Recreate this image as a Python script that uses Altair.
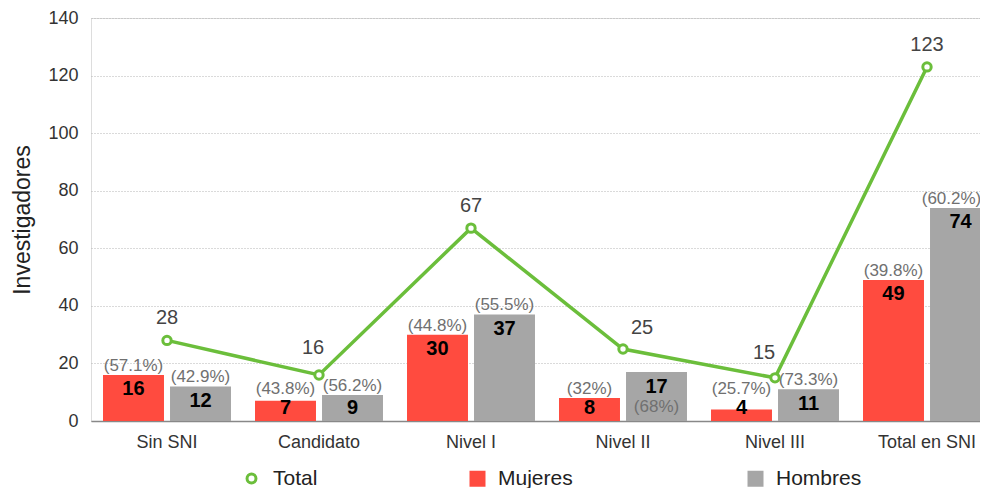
import altair as alt
import pandas as pd

categorias = ["Sin SNI", "Candidato", "Nivel I", "Nivel II", "Nivel III", "Total en SNI"]
mujeres = [16, 7, 30, 8, 4, 49]
hombres = [12, 9, 37, 17, 11, 74]
total = [28, 16, 67, 25, 15, 123]
pct_mujeres = ["(57.1%)", "(43.8%)", "(44.8%)", "(32%)", "(25.7%)", "(39.8%)"]
pct_hombres = ["(42.9%)", "(56.2%)", "(55.5%)", "(68%)", "(73.3%)", "(60.2%)"]
series_barras = ["Mujeres", "Hombres"]
colores_barras = ["#FF4B3F", "#A6A6A6"]
verde = "#6BBE3B"

bars_df = pd.DataFrame({
    "cat": categorias * 2,
    "serie": ["Mujeres"] * len(categorias) + ["Hombres"] * len(categorias),
    "valor": mujeres + hombres,
    "pct": pct_mujeres + pct_hombres,
})
line_df = pd.DataFrame({"cat": categorias, "serie": ["Total"] * len(categorias), "valor": total})

H = 403
PX = H / 140.0  # pixels per unit

FONT = "Liberation Sans"

x_enc = alt.X("cat:N", sort=categorias, title=None,
              scale=alt.Scale(paddingInner=0.158, paddingOuter=0.079),
              axis=alt.Axis(labelFontSize=18, labelColor="#333", labelPadding=12,
                            ticks=False, domainColor="#888", domainWidth=1.5, labelAngle=0))
y_scale = alt.Scale(domain=[0, 140])
y_axis = alt.Axis(values=list(range(0, 141, 20)), title="Investigadores", grid=True,
                  gridDash=[1, 2], gridColor="#b5b5b5", domain=False, ticks=False,
                  labelPadding=13, labelFontSize=18, labelColor="#333",
                  titleFontSize=23, titleFontWeight="normal", titleColor="#222", titlePadding=13)

LEG_Y = 450
color_bars = alt.Color(
    "serie:N", scale=alt.Scale(domain=series_barras, range=colores_barras),
    legend=alt.Legend(title=None, orient="none", direction="horizontal", legendX=376, legendY=LEG_Y,
                      labelFontSize=21, labelColor="#222", symbolSize=256, symbolType="square",
                      columnPadding=172, labelOffset=10, padding=0, symbolStrokeWidth=0))
color_total = alt.Color(
    "serie:N", scale=alt.Scale(domain=["Total"], range=[verde]),
    legend=alt.Legend(title=None, orient="none", direction="horizontal", legendX=150, legendY=LEG_Y,
                      labelFontSize=21, labelColor="#222", symbolSize=80, symbolType="circle",
                      labelOffset=11, padding=0, symbolFillColor="white", symbolStrokeWidth=3,
                      symbolOpacity=1))
xoff = alt.XOffset("serie:N", sort=series_barras, scale=alt.Scale(paddingInner=0.09, paddingOuter=0))

bars = alt.Chart(bars_df).mark_bar().encode(
    x=x_enc, xOffset=xoff, y=alt.Y("valor:Q", scale=y_scale, axis=y_axis), color=color_bars)

base_lbl = alt.Chart(bars_df).transform_calculate(
    ly=f"max(datum.valor - 14.5/{PX}, 13/{PX})"
).transform_calculate(
    py=f"(datum.cat === 'Nivel II' && datum.serie === 'Hombres') ? datum.ly - 20/{PX} : max(datum.valor + 9/{PX}, datum.ly + 19/{PX})"
)
val_lbl = base_lbl.mark_text(fontSize=20, fontWeight="bold", color="#000", baseline="middle", font=FONT).encode(
    x=x_enc, xOffset=xoff, y=alt.Y("ly:Q", scale=y_scale, axis=y_axis), text="valor:Q")
pct_style = dict(fontSize=17, color="#707070", baseline="middle", font=FONT)
pct_enc = dict(x=x_enc, xOffset=xoff, y=alt.Y("py:Q", scale=y_scale, axis=y_axis), text="pct:N")
edge = "datum.cat === 'Total en SNI' && datum.serie === 'Hombres'"
pct_lbl = base_lbl.transform_filter(f"!({edge})").mark_text(**pct_style).encode(**pct_enc)
pct_lbl_edge = base_lbl.transform_filter(edge).mark_text(dx=-9, **pct_style).encode(**pct_enc)

line = alt.Chart(line_df).mark_line(strokeWidth=3.5, color=verde).encode(
    x=x_enc, y=alt.Y("valor:Q", scale=y_scale, axis=y_axis))
pts = alt.Chart(line_df).mark_point(filled=False, fill="white", fillOpacity=1, shape="circle",
                                    size=70, strokeWidth=3, opacity=1).encode(
    x=x_enc, y=alt.Y("valor:Q", scale=y_scale, axis=y_axis), color=color_total)

tot_base = alt.Chart(line_df)
tot_enc = dict(x=x_enc, y=alt.Y("valor:Q", scale=y_scale, axis=y_axis), text="valor:Q")
tot_style = dict(fontSize=20, color="#444", baseline="middle", font=FONT)
tot_lbl = tot_base.transform_filter(
    "datum.cat !== 'Candidato' && datum.cat !== 'Nivel II' && datum.cat !== 'Nivel III'"
).mark_text(dy=-22, **tot_style).encode(**tot_enc)
tot_lbl_cand = tot_base.transform_filter("datum.cat === 'Candidato'").mark_text(
    dx=-6, dy=-27, **tot_style).encode(**tot_enc)
tot_lbl_n2 = tot_base.transform_filter("datum.cat === 'Nivel II'").mark_text(
    dx=19, dy=-21, **tot_style).encode(**tot_enc)
tot_lbl_n3 = tot_base.transform_filter("datum.cat === 'Nivel III'").mark_text(
    dx=-11, dy=-25, **tot_style).encode(**tot_enc)

chart = alt.layer(bars, val_lbl, pct_lbl, pct_lbl_edge, line, pts,
                  tot_lbl, tot_lbl_cand, tot_lbl_n2, tot_lbl_n3).resolve_scale(
    color="independent"
).properties(
    width=912, height=H,
    autosize=alt.AutoSizeParams(type="none"),
    padding={"left": 83, "top": 10, "right": -23, "bottom": 67},
).configure_view(stroke=None).configure(font=FONT)

chart.save("out.html", embed_options={"renderer": "svg", "actions": False})
